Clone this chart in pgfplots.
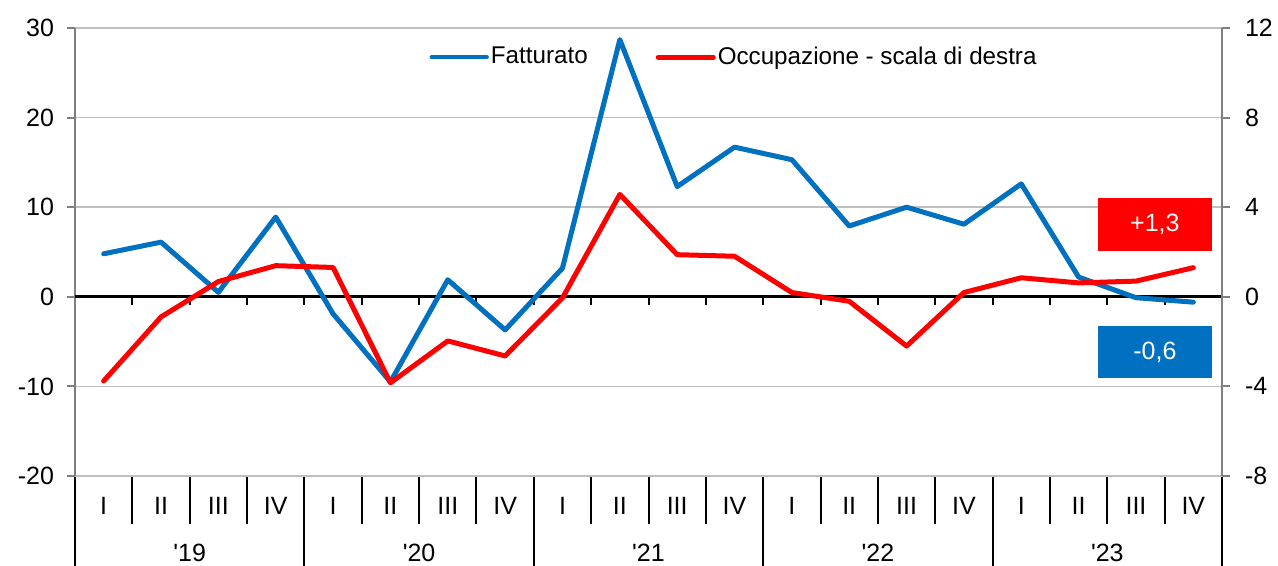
\documentclass[border=0pt]{standalone}
\usepackage{fontspec}
\setmainfont{Liberation Sans}
\usepackage{pgfplots}
\pgfplotsset{compat=1.18}
\definecolor{fblue}{RGB}{0,112,192}
\definecolor{ored}{RGB}{255,0,0}
\definecolor{gridgray}{RGB}{191,191,191}
\definecolor{axgray}{RGB}{128,128,128}
\newcommand{\fs}{\fontsize{12.5pt}{15pt}\selectfont}
\newcommand{\lfs}{\fontsize{12.1pt}{14.5pt}\selectfont}
\begin{document}
\begin{tikzpicture}
\useasboundingbox (-37.5pt,-45pt) rectangle (601.5pt,238pt);
% category separators below the plot and ticks on the zero line
\foreach \k in {0,...,20} {
  \draw[black, line width=1pt] (\k*28.675pt,0pt) -- (\k*28.675pt,-24pt);
  \draw[black, line width=1pt] (\k*28.675pt,89.6pt) -- (\k*28.675pt,85.6pt);
}
\foreach \k in {0,4,...,20} {
  \draw[black, line width=1pt] (\k*28.675pt,-24pt) -- (\k*28.675pt,-46pt);
}
\foreach \j/\y in {0/19,1/20,2/21,3/22,4/23} {
  \node[anchor=base, font=\fs, inner sep=0pt] at ({(4*\j+2)*28.675pt},-43pt) {\textquotesingle\y};
}
\begin{axis}[
  at={(0pt,0pt)}, anchor=south west,
  scale only axis, width=573.5pt, height=224pt,
  xmin=-0.5, xmax=19.5, ymin=-20, ymax=30,
  font=\fs,
  axis x line*=bottom, axis y line*=left,
  x axis line style={draw=gridgray, line width=0.75pt, -},
  y axis line style={draw=axgray, line width=1pt, -},
  xtick={0,...,19},
  xticklabels={I,II,III,IV,I,II,III,IV,I,II,III,IV,I,II,III,IV,I,II,III,IV},
  xtick style={draw=none},
  xticklabel style={anchor=base, yshift=-15.5pt, inner sep=0pt},
  ytick={-20,-10,10,20,30},
  yticklabels={-20,-10,10,20,30},
  yticklabel style={xshift=-3pt},
  extra y ticks={0}, extra y tick labels={0},
  extra y tick style={grid style={black, line width=1.5pt}},
  ymajorgrids, grid style={gridgray, line width=0.75pt},
  tick align=outside, major tick length=4pt,
  ytick style={draw=axgray, line width=1pt},
  clip=false,
]
\addplot[fblue, line width=2.5pt, line join=round, line cap=round] coordinates {
(0,4.8) (1,6.1) (2,0.5) (3,8.9) (4,-1.9) (5,-9.5) (6,1.9) (7,-3.7) (8,3.2) (9,28.7)
(10,12.3) (11,16.7) (12,15.3) (13,7.9) (14,10.0) (15,8.1) (16,12.6) (17,2.2) (18,-0.1) (19,-0.6)
};
\node[fill=ored, text=white, minimum width=57pt, minimum height=26.5pt, inner sep=0pt, font=\fs] at (axis cs:18.33,8.1) {+1,3};
\node[fill=fblue, text=white, minimum width=57pt, minimum height=26pt, inner sep=0pt, font=\fs] at (axis cs:18.33,-6.15) {-0,6};
\end{axis}
\begin{axis}[
  at={(0pt,0pt)}, anchor=south west,
  scale only axis, width=573.5pt, height=224pt,
  xmin=-0.5, xmax=19.5, ymin=-8, ymax=12,
  font=\fs,
  axis x line=none, axis y line*=right,
  y axis line style={draw=axgray, line width=1pt, -},
  ytick={-8,-4,0,4,8,12},
  yticklabels={-8,-4,0,4,8,12},
  yticklabel style={xshift=4pt},
  tick align=outside, major tick length=4pt,
  ytick style={draw=axgray, line width=1pt},
  legend style={draw=none, fill=none, at={(0.3035,0.935)}, anchor=west, font=\lfs,
    nodes={inner sep=1pt},
    /tikz/every even column/.append style={column sep=33pt}},
  legend columns=2,
  legend image code/.code={\draw[#1, line cap=round] (0pt,0pt) -- (27.5pt,0pt);},
]
\addlegendimage{fblue, line width=2.2pt}
\addlegendentry{Fatturato}
\addplot[ored, line width=2.5pt, line join=round, line cap=round] coordinates {
(0,-3.76) (1,-0.9) (2,0.68) (3,1.39) (4,1.31) (5,-3.84) (6,-1.97) (7,-2.64) (8,-0.05) (9,4.57)
(10,1.88) (11,1.81) (12,0.19) (13,-0.2) (14,-2.2) (15,0.19) (16,0.85) (17,0.62) (18,0.7) (19,1.3)
};
\addlegendentry{Occupazione - scala di destra}
\end{axis}
\end{tikzpicture}
\end{document}
